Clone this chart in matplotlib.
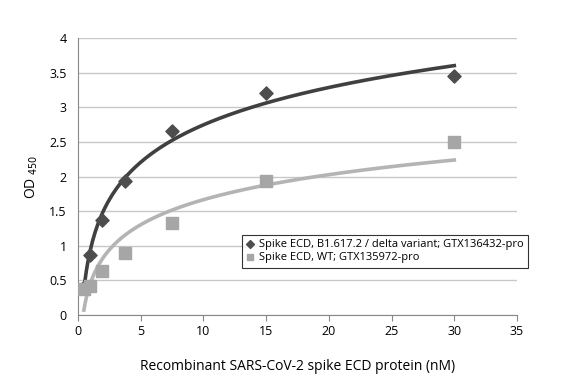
import numpy as np
import matplotlib.pyplot as plt

plt.rcParams['font.family'] = ['Open Sans', 'DejaVu Sans']

conc = [0.47, 0.94, 1.875, 3.75, 7.5, 15, 30]
delta_od = [0.40, 0.87, 1.37, 1.93, 2.66, 3.20, 3.45]
wt_od = [0.37, 0.42, 0.63, 0.90, 1.33, 1.93, 2.50]
labels = ['Spike ECD, B1.617.2 / delta variant; GTX136432-pro',
          'Spike ECD, WT; GTX135972-pro']

fig = plt.figure(figsize=(5.82, 3.82), dpi=100)
ax = fig.add_axes([78 / 582, 1 - 315 / 382, 439 / 582, 277 / 382])

# logarithmic trend lines, like excel does
xs = np.linspace(min(conc), max(conc), 300)
k1 = np.polyfit(np.log(conc), delta_od, 1)
k2 = np.polyfit(np.log(conc), wt_od, 1)
ax.plot(xs, np.polyval(k1, np.log(xs)), color='#404040', lw=2.6, zorder=3)
ax.plot(xs, np.polyval(k2, np.log(xs)), color='#b4b4b4', lw=2.6, zorder=3)

ax.scatter(conc, delta_od, marker='D', s=45, color='#4d4d4d', zorder=4, label=labels[0])
ax.scatter(conc, wt_od, marker='s', s=70, color='#a6a6a6', zorder=4, label=labels[1])

ax.set_xlim(0, 35)
ax.set_ylim(0, 4)
ax.set_xticks(range(0, 36, 5))
ax.set_yticks(np.arange(0, 4.01, 0.5))
ax.set_yticklabels(['0', '0.5', '1', '1.5', '2', '2.5', '3', '3.5', '4'])
ax.grid(axis='y', color='#c8c8c8', lw=1)
ax.set_axisbelow(True)
for s in ['top', 'right']:
    ax.spines[s].set_visible(False)
for s in ['left', 'bottom']:
    ax.spines[s].set_color('#888888')
ax.tick_params(axis='y', length=0, labelsize=9, pad=8)
ax.tick_params(axis='x', length=4, color='#888888', labelsize=9)

ax.set_xlabel('Recombinant SARS-CoV-2 spike ECD protein (nM)', fontsize=10, labelpad=15)
ax.set_ylabel('OD $_{450}$', fontsize=10, labelpad=7)

leg = ax.legend(loc='upper left', bbox_to_anchor=(0.362, 0.31), fontsize=8,
                frameon=True, fancybox=False, edgecolor='black', handlelength=0.6,
                handletextpad=0.5, borderpad=0.4, labelspacing=0.2, markerscale=0.6)
leg.get_frame().set_linewidth(0.8)

fig.savefig('out.png', dpi=100)
